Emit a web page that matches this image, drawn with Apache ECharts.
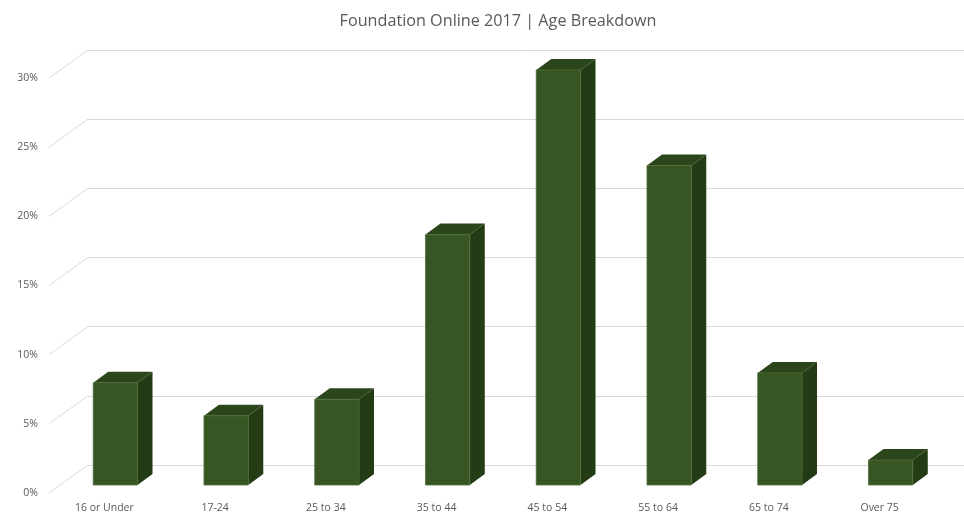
<!DOCTYPE html>
<html>
<head>
<meta charset="utf-8">
<script src="https://cdn.jsdelivr.net/npm/echarts@6/dist/echarts.min.js"></script>
<style>
  html, body { margin: 0; padding: 0; background: #fff; }
  #chart { width: 964px; height: 524px; }
</style>
</head>
<body>
<div id="chart"></div>
<script>
var categories = ['16 or Under', '17-24', '25 to 34', '35 to 44', '45 to 54', '55 to 64', '65 to 74', 'Over 75'];
var shares = [7.4, 5.0, 6.2, 18.1, 30.0, 23.1, 8.1, 1.8];
var ticks = [0, 5, 10, 15, 20, 25, 30];

// perspective offsets (px) from the back wall
var FLOOR = [-39, 28];   // front edge of the floor
var FRONT = [-28, 20];   // front face of the bars
var DEPTH = [15, -11];   // bar depth

var chart = echarts.init(document.getElementById('chart'));

var renderBar = function(params, api) {
  var base = api.coord([api.value(0), 0]);
  var top = api.coord([api.value(0), api.value(1)]);
  var bw = api.size([1, 0])[0] * 0.4;
  var x0 = base[0] + FRONT[0] - bw / 2;
  var x1 = x0 + bw;
  var y0 = top[1] + FRONT[1];
  var y1 = base[1] + FRONT[1];
  var dx = DEPTH[0], dy = DEPTH[1];
  return {
    type: 'group',
    children: [
      {
        type: 'polygon',
        shape: { points: [[x1, y1], [x1 + dx, y1 + dy], [x1 + dx, y0 + dy], [x1, y0]] },
        style: { fill: '#243c15' }
      },
      {
        type: 'polygon',
        shape: { points: [[x0, y0], [x0 + dx, y0 + dy], [x1 + dx, y0 + dy], [x1, y0]] },
        style: { fill: '#2c461b' }
      },
      {
        type: 'rect',
        shape: { x: x0, y: y0, width: bw, height: y1 - y0 },
        style: { fill: '#375623', stroke: '#4e6f38', lineWidth: 0.8 }
      }
    ]
  };
};

var renderDiag = function(params, api) {
  var p = api.coord([0, api.value(1)]);
  var x = params.coordSys.x;
  return {
    type: 'line',
    shape: { x1: x + FLOOR[0], y1: p[1] + FLOOR[1], x2: x, y2: p[1] },
    style: { stroke: '#d9d9d9', lineWidth: 1 }
  };
};

var option = {
  animation: false,
  title: {
    text: 'Foundation Online 2017 | Age Breakdown',
    left: 493,
    top: 8,
    textAlign: 'center',
    textStyle: { fontFamily: 'Open Sans', fontSize: 16.2, fontWeight: 'normal', color: '#595959' }
  },
  grid: [
    // back wall
    { left: 88, top: 50, width: 886, height: 415, outerBoundsMode: 'none' },
    // floor front edge, carries the labels
    { left: 49, top: 78, width: 886, height: 415, outerBoundsMode: 'none' }
  ],
  xAxis: [
    {
      type: 'category', gridIndex: 0, data: categories,
      axisLine: { show: false }, axisTick: { show: false }, axisLabel: { show: false }
    },
    {
      type: 'category', gridIndex: 1, data: categories,
      axisLine: { show: false }, axisTick: { show: false },
      axisLabel: { color: '#595959', fontFamily: 'Open Sans', fontSize: 10.5, margin: 10, interval: 0 }
    }
  ],
  yAxis: [
    {
      type: 'value', gridIndex: 0, min: 0, max: 30, interval: 5,
      axisLine: { show: false }, axisTick: { show: false }, axisLabel: { show: false },
      splitLine: { lineStyle: { color: '#d9d9d9', width: 1 } }
    },
    {
      type: 'value', gridIndex: 1, min: 0, max: 30, interval: 5,
      axisLine: { show: false }, axisTick: { show: false }, splitLine: { show: false },
      axisLabel: { color: '#595959', fontFamily: 'Open Sans', fontSize: 10.5, margin: 11, formatter: '{value}%' }
    }
  ],
  series: [
    {
      type: 'custom',
      xAxisIndex: 0, yAxisIndex: 0,
      renderItem: renderDiag,
      clip: false,
      silent: true,
      data: ticks.map(function(t) { return [0, t]; })
    },
    {
      type: 'custom',
      xAxisIndex: 0, yAxisIndex: 0,
      renderItem: renderBar,
      clip: false,
      data: shares.map(function(v, i) { return [i, v]; })
    }
  ]
};
chart.setOption(option);
</script>
</body>
</html>
